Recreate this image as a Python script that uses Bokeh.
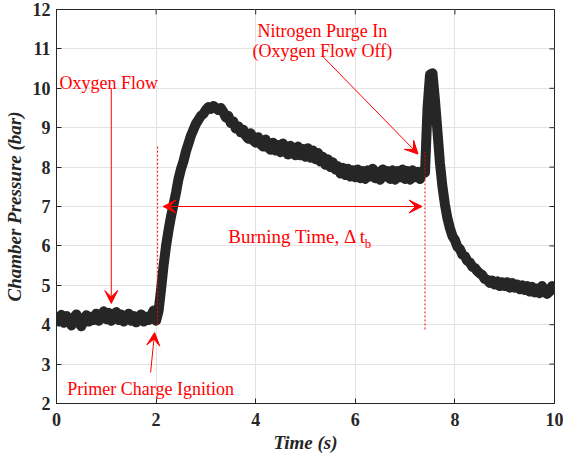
from bokeh.plotting import figure
from bokeh.models import Range1d, FixedTicker, Arrow, VeeHead, Label
from bokeh.embed import file_html
from bokeh.resources import INLINE
import math

# ---- data ----
time_step = 0.05
pressure_bar = [
    # 0.00 - 2.00 s
    4.20, 4.08, 4.25, 4.05, 4.22, 4.12, 3.98, 4.18, 4.26, 4.06,
    3.96, 4.16, 4.24, 4.08, 4.20, 4.12, 4.28, 4.10, 4.22, 4.34,
    4.14, 4.30, 4.10, 4.24, 4.32, 4.12, 4.26, 4.08, 4.20, 4.28,
    4.10, 4.22, 4.06, 4.18, 4.26, 4.08, 4.20, 4.12, 4.24, 4.36,
    4.10,
    # 2.05 - 3.30 s
    4.35, 4.90, 5.50, 6.00, 6.40, 6.75, 7.05, 7.35, 7.70, 7.95,
    8.15, 8.40, 8.60, 8.80, 8.95, 9.10, 9.20, 9.30, 9.35, 9.45,
    9.52, 9.48, 9.55, 9.50, 9.45, 9.50,
    # 3.35 - 7.40 s
    9.40, 9.26, 9.30, 9.12, 9.16, 8.98, 9.04, 8.88, 8.95, 8.80,
    8.72, 8.86, 8.68, 8.62, 8.76, 8.58, 8.52, 8.70, 8.50, 8.44,
    8.62, 8.42, 8.56, 8.38, 8.60, 8.42, 8.32, 8.54, 8.36, 8.30,
    8.52, 8.30, 8.46, 8.26, 8.48, 8.24, 8.42, 8.20, 8.36, 8.14,
    8.26, 8.06, 8.20, 8.00, 8.12, 7.94, 8.02, 7.84, 7.98, 7.80,
    7.96, 7.76, 7.92, 7.74, 7.94, 7.72, 7.90, 7.70, 7.92, 7.76,
    7.96, 7.72, 7.88, 7.68, 7.94, 7.76, 7.90, 7.70, 7.92, 7.68,
    7.90, 7.74, 7.94, 7.70, 7.90, 7.68, 7.92, 7.74, 7.88, 7.70,
    7.90, 7.86,
    # 7.45 - 8.50 s
    9.50, 10.35, 10.38, 9.70, 8.90, 8.10, 7.50, 7.05, 6.70, 6.45,
    6.25, 6.15, 5.98, 5.92, 5.78, 5.74, 5.62, 5.58, 5.47, 5.44,
    5.36, 5.30,
    # 8.55 - 10.00 s
    5.26, 5.16, 5.14, 5.06, 5.12, 5.02, 5.10, 4.98, 5.08, 4.98,
    5.08, 4.94, 5.06, 4.94, 5.02, 4.90, 5.00, 4.88, 4.98, 4.84,
    4.96, 4.82, 4.92, 4.80, 4.98, 4.84, 4.78, 4.84, 4.98, 4.90,
]
time_s = [round(i * time_step, 2) for i in range(len(pressure_bar))]

x_ticks = [0, 2, 4, 6, 8, 10]
y_ticks = [2, 3, 4, 5, 6, 7, 8, 9, 10, 11, 12]
x_min, x_max = 0, 10
y_min, y_max = 2, 12

ignition_t = 2.03
purge_t = 7.40

AX = "#262626"
RED = "#ff0000"
SERIF = "Liberation Serif"

p = figure(width=563, height=459, x_range=Range1d(x_min, x_max), y_range=Range1d(y_min, y_max),
           output_backend="svg", toolbar_location=None,
           min_border_left=56, min_border_right=9, min_border_top=9, min_border_bottom=56)
p.background_fill_color = "white"
p.border_fill_color = "white"
p.outline_line_color = AX
p.outline_line_width = 1

for ax in (p.xaxis[0], p.yaxis[0]):
    ax.major_tick_in = 5
    ax.major_tick_out = 0
    ax.minor_tick_line_color = None
    ax.axis_line_color = AX
    ax.major_tick_line_color = AX
    ax.major_label_text_font = SERIF
    ax.major_label_text_font_style = "bold"
    ax.major_label_text_font_size = "18px"
    ax.major_label_text_color = AX
    ax.axis_label_text_font = SERIF
    ax.axis_label_text_font_style = "bold italic"
    ax.axis_label_text_font_size = "19px"
    ax.axis_label_text_color = AX

p.xaxis[0].ticker = FixedTicker(ticks=x_ticks)
p.yaxis[0].ticker = FixedTicker(ticks=y_ticks)
p.xaxis[0].axis_label = "Time (s)"
p.yaxis[0].axis_label = "Chamber Pressure (bar)"
p.xaxis[0].major_label_standoff = 9
p.xaxis[0].axis_label_standoff = 3
p.yaxis[0].major_label_standoff = 6
p.yaxis[0].axis_label_standoff = 5

p.xgrid.ticker = FixedTicker(ticks=x_ticks)
p.ygrid.ticker = FixedTicker(ticks=y_ticks)
p.xgrid.grid_line_color = "#e3e3e3"
p.ygrid.grid_line_color = "#e3e3e3"

# inward ticks on the top and right edges of the box (half of each dash is clipped by the frame)
p.scatter(x=x_ticks, y=[y_max] * len(x_ticks), marker="dash", angle=math.pi / 2, size=10,
          line_color=AX, line_width=1)
p.scatter(x=[x_max] * len(y_ticks), y=y_ticks, marker="dash", size=10,
          line_color=AX, line_width=1)

# main trace
p.line(time_s, pressure_bar, line_color="#262626", line_width=10,
       line_join="round", line_cap="round")

# dashed markers
p.segment(x0=[ignition_t, purge_t], y0=[4.0, 3.88], x1=[ignition_t, purge_t], y1=[8.56, 8.38],
          line_color=RED, line_width=1, line_dash="2 2")

def head():
    return VeeHead(size=13, fill_color=RED, line_color=RED, line_width=1)

p.add_layout(Arrow(x_start=1.10, y_start=10.0, x_end=1.10, y_end=4.54, end=head(),
                   line_color=RED, line_width=1))
p.add_layout(Arrow(x_start=1.89, y_start=2.79, x_end=1.97, y_end=3.80, end=head(),
                   line_color=RED, line_width=1))
p.add_layout(Arrow(x_start=5.36, y_start=10.79, x_end=7.26, y_end=8.33, end=head(),
                   line_color=RED, line_width=1))
p.add_layout(Arrow(x_start=2.14, y_start=7.0, x_end=7.34, y_end=7.0, start=head(), end=head(),
                   line_color=RED, line_width=1))

def lab(x, y, text, size="18px", align="center"):
    p.add_layout(Label(x=x, y=y, text=text, text_font=SERIF, text_font_size=size,
                       text_color=RED, text_align=align, text_baseline="alphabetic"))

lab(1.05, 10.13, "Oxygen Flow")
lab(1.89, 2.36, "Primer Charge Ignition")
lab(5.34, 11.45, "Nitrogen Purge In")
lab(5.34, 10.95, "(Oxygen Flow Off)")
lab(3.45, 6.24, "Burning Time, \u0394 t", size="19px", align="left")
lab(6.19, 6.06, "b", size="13px", align="left")

open("out.html", "w").write(file_html(p, INLINE))
